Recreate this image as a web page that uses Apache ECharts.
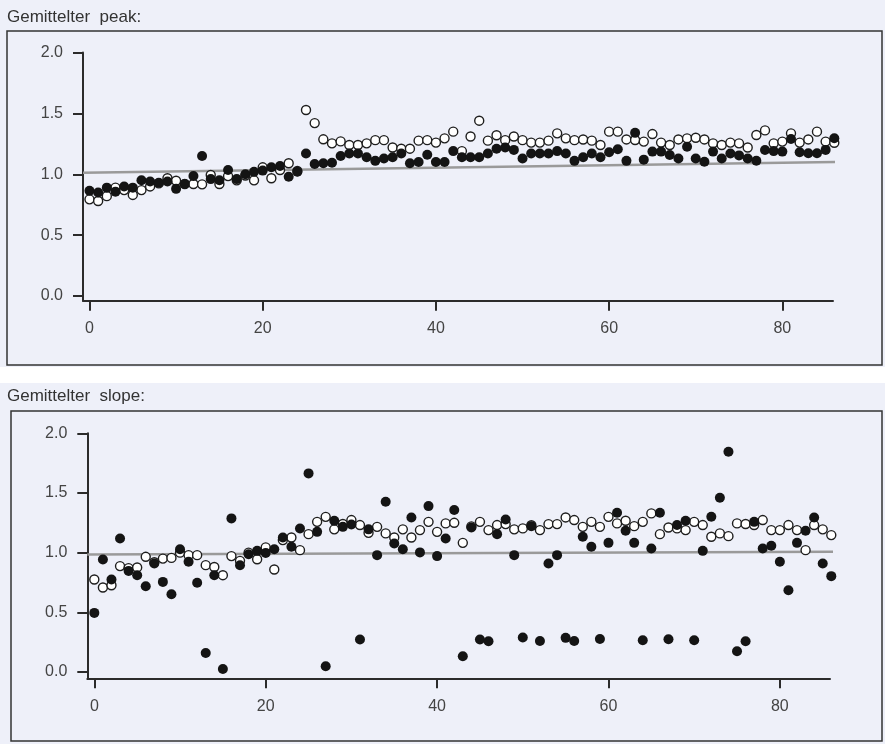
<!DOCTYPE html>
<html>
<head>
<meta charset="utf-8">
<script src="https://cdn.jsdelivr.net/npm/echarts@6/dist/echarts.min.js"></script>
<style>
  html, body { margin: 0; padding: 0; background: #ffffff; }
  #chart { width: 885px; height: 744px; }
</style>
</head>
<body>
<div id="chart"></div>
<script>
// Averaged peak values per measurement (index 0..86): filled = series A, open = series B
const peakFilled = [
  0.865, 0.85, 0.89, 0.857, 0.90, 0.89, 0.95, 0.94, 0.93, 0.94,
  0.88, 0.92, 0.986, 1.15, 0.96, 0.95, 1.035, 0.96, 1.00, 1.02,
  1.03, 1.057, 1.068, 0.98, 1.02, 1.17, 1.084, 1.09, 1.095, 1.15,
  1.17, 1.17, 1.14, 1.11, 1.13, 1.14, 1.17, 1.09, 1.10, 1.16,
  1.10, 1.10, 1.19, 1.14, 1.14, 1.14, 1.17, 1.21, 1.22, 1.20,
  1.13, 1.17, 1.17, 1.17, 1.19, 1.17, 1.11, 1.14, 1.17, 1.14,
  1.18, 1.205, 1.11, 1.34, 1.12, 1.186, 1.186, 1.158, 1.13, 1.226,
  1.13, 1.103, 1.186, 1.13, 1.17, 1.155, 1.13, 1.111, 1.199, 1.19,
  1.186, 1.29, 1.18, 1.172, 1.172, 1.2, 1.295
];
const peakOpen = [
  0.794, 0.78, 0.82, 0.89, 0.87, 0.83, 0.87, 0.90, 0.925, 0.967,
  0.947, 0.92, 0.92, 0.917, 0.994, 0.92, 0.985, 0.95, 0.99, 0.95,
  1.057, 0.967, 1.035, 1.09, 1.027, 1.528, 1.42, 1.287, 1.254, 1.27,
  1.24, 1.24, 1.254, 1.28, 1.28, 1.22, 1.21, 1.21, 1.276, 1.28,
  1.26, 1.295, 1.35, 1.19, 1.31, 1.44, 1.276, 1.32, 1.28, 1.31,
  1.28, 1.26, 1.26, 1.276, 1.336, 1.295, 1.28, 1.285, 1.276, 1.24,
  1.35, 1.35, 1.286, 1.281, 1.268, 1.33, 1.26, 1.24, 1.286, 1.295,
  1.30, 1.286, 1.254, 1.24, 1.26, 1.254, 1.22, 1.322, 1.36, 1.254,
  1.268, 1.336, 1.26, 1.286, 1.35, 1.268, 1.259
];
// Averaged slope values per measurement
const slopeFilled = [
  0.495, 0.943, 0.775, 1.119, 0.847, 0.811, 0.719, 0.909, 0.755, 0.652,
  1.029, 0.923, 0.747, 0.159, 0.811, 0.025, 1.287, 0.895, 0.987, 1.015,
  0.998, 1.029, 1.127, 1.049, 1.203, 1.664, 1.174, 0.048, 1.267, 1.216,
  1.236, 0.272, 1.195, 0.979, 1.426, 1.077, 1.029, 1.295, 1.002, 1.39,
  0.971, 1.119, 1.357, 0.132, 1.211, 0.272, 0.257, 1.155, 1.278, 0.979,
  0.289, 1.222, 0.26, 0.909, 0.979, 0.286, 0.26, 1.133, 1.049, 0.277,
  1.082, 1.334, 1.183, 1.082, 0.266, 1.035, 1.334, 0.274, 1.231, 1.267,
  0.266, 1.015, 1.30, 1.46, 1.846, 0.174, 0.257, 1.258, 1.035, 1.057,
  0.923, 0.685, 1.082, 1.183, 1.295, 0.909, 0.803
];
const slopeOpen = [
  0.775, 0.708, 0.727, 0.887, 0.87, 0.876, 0.965, 0.92, 0.95, 0.956,
  1.0, 0.979, 0.979, 0.895, 0.88, 0.811, 0.971, 0.931, 1.0, 0.945,
  1.044, 0.859, 1.105, 1.127, 1.021, 1.155, 1.258, 1.3, 1.195, 1.24,
  1.273, 1.231, 1.166, 1.216, 1.161, 1.127, 1.195, 1.127, 1.189, 1.258,
  1.174, 1.245, 1.25, 1.082, 1.22, 1.258, 1.189, 1.231, 1.239, 1.195,
  1.203, 1.23, 1.189, 1.239, 1.239, 1.295, 1.273, 1.216, 1.258, 1.216,
  1.30, 1.245, 1.267, 1.222, 1.258, 1.329, 1.155, 1.211, 1.203, 1.189,
  1.258, 1.231, 1.133, 1.161, 1.138, 1.245, 1.24, 1.231, 1.273, 1.189,
  1.189, 1.231, 1.189, 1.021, 1.231, 1.195, 1.147
];
// Fitted trend lines (start and end point, in data units)
const peakTrend = [[-0.75, 1.013], [89.3, 1.103]];
const slopeTrend = [[-0.82, 0.985], [86.9, 1.007]];

// Axis ticks
const xTicks = [0, 20, 40, 60, 80];
const yTicks = [0, 0.5, 1.0, 1.5, 2.0];

const FONT = '"Liberation Sans", Arial, Helvetica, sans-serif';
const AXIS_COLOR = '#2b2b2b';
const toPoints = arr => arr.map((v, i) => [i, v]);

function xAxisCfg(gridIndex, min, max) {
  return {
    type: 'value', gridIndex, min, max,
    axisLine: { show: true, onZero: false, lineStyle: { color: AXIS_COLOR, width: 2 } },
    axisTick: { show: true, length: 10, customValues: xTicks, lineStyle: { color: AXIS_COLOR, width: 2 } },
    axisLabel: { customValues: xTicks, margin: 20, fontSize: 16, color: '#444', fontFamily: FONT },
    splitLine: { show: false }
  };
}
function yAxisCfg(gridIndex, min) {
  return {
    type: 'value', gridIndex, min, max: 2,
    axisLine: { show: true, onZero: false, lineStyle: { color: AXIS_COLOR, width: 2 } },
    axisTick: { show: true, length: 10, customValues: yTicks, lineStyle: { color: AXIS_COLOR, width: 2 } },
    axisLabel: { customValues: yTicks, margin: 20, fontSize: 16, color: '#444', fontFamily: FONT,
                 formatter: v => v.toFixed(1) },
    splitLine: { show: false }
  };
}
function trendSeries(idx, data) {
  return {
    type: 'line', xAxisIndex: idx, yAxisIndex: idx, data, symbol: 'none', clip: false,
    silent: true, z: 1, lineStyle: { color: '#9a9a9a', width: 2.5 }
  };
}
function openSeries(idx, vals) {
  return {
    type: 'scatter', xAxisIndex: idx, yAxisIndex: idx, data: toPoints(vals),
    symbol: 'circle', symbolSize: 9, z: 2, clip: false,
    itemStyle: { color: '#ffffff', borderColor: '#1e1e1e', borderWidth: 1.4, opacity: 1 }
  };
}
function filledSeries(idx, vals) {
  return {
    type: 'scatter', xAxisIndex: idx, yAxisIndex: idx, data: toPoints(vals),
    symbol: 'circle', symbolSize: 10, z: 3, clip: false,
    itemStyle: { color: '#141414', opacity: 1 }
  };
}

const chart = echarts.init(document.getElementById('chart'), null, { renderer: 'canvas' });
chart.setOption({
  animation: false,
  backgroundColor: '#ffffff',
  graphic: [
    { type: 'rect', z: -10, silent: true, shape: { x: 0, y: 0, width: 885, height: 367 }, style: { fill: '#eef0f9' } },
    { type: 'rect', z: -10, silent: true, shape: { x: 0, y: 383, width: 885, height: 361 }, style: { fill: '#eef0f9' } },
    { type: 'rect', z: -5, silent: true, shape: { x: 7, y: 31, width: 875, height: 334 }, style: { fill: null, stroke: '#333', lineWidth: 1.5 } },
    { type: 'rect', z: -5, silent: true, shape: { x: 11, y: 411, width: 871, height: 330 }, style: { fill: null, stroke: '#333', lineWidth: 1.5 } }
  ],
  title: [
    { text: 'Gemittelter  peak:', left: 7, top: 9, padding: 0,
      textStyle: { fontFamily: FONT, fontSize: 17, fontWeight: 'normal', color: '#333' } },
    { text: 'Gemittelter  slope:', left: 7, top: 388, padding: 0,
      textStyle: { fontFamily: FONT, fontSize: 17, fontWeight: 'normal', color: '#333' } }
  ],
  grid: [
    { left: 83, right: 52, top: 52.5, bottom: 443.3 },
    { left: 87.3, right: 55, top: 433.3, bottom: 65.7 }
  ],
  xAxis: [ xAxisCfg(0, -0.75, 85.85), xAxisCfg(1, -0.82, 85.85) ],
  yAxis: [ yAxisCfg(0, -0.0386), yAxisCfg(1, -0.053) ],
  series: [
    trendSeries(0, peakTrend),
    openSeries(0, peakOpen),
    filledSeries(0, peakFilled),
    trendSeries(1, slopeTrend),
    openSeries(1, slopeOpen),
    filledSeries(1, slopeFilled)
  ]
});
</script>
</body>
</html>
